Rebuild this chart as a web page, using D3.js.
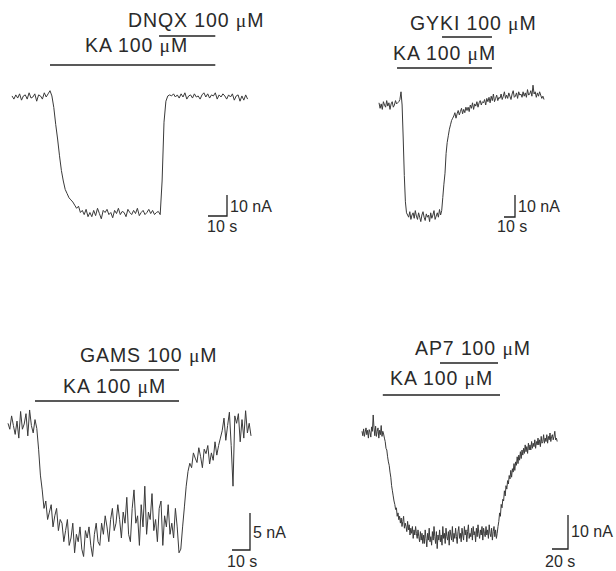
<!DOCTYPE html>
<html>
<head>
<meta charset="utf-8">
<script src="https://cdn.jsdelivr.net/npm/d3@7"></script>
<style>
  body { margin: 0; background: #fff; }
  svg { display: block; }
  text { font-family: "Liberation Sans", Arial, sans-serif; fill: #2a2a2a; }
</style>
</head>
<body>
<div id="chart"></div>
<script>
// drugs applied on top of KA, one panel each
const drugNames = ['DNQX', 'GYKI', 'GAMS', 'AP7'];
const drugConc = ['100', '100', '100', '100'];
const kaConc = ['100', '100', '100', '100'];

// sample interval of each trace (s)
const sampleStep = [1, 1, 1, 1];

// whole-cell current (nA)
const traceDNQX = [
  0.5, -1, 1, -0.5, 1.5, -1.5, 0.5, 1, -1, 2,
  -0.5, 0, 1.5, -2, 1, 0.5, -1, 2, 0, 1.5,
  3,
  0.5, -5, -13, -20, -28, -35, -40, -44, -46, -48, -49, -50, -51.5, -53, -52, -55, -54, -56, -53.5,
  -57, -55, -57, -54, -56.5, -53, -55.5, -58, -54, -55,
  -53.5, -56, -55, -57.5, -54, -55.5, -53, -56, -54.5, -55,
  -57, -53.5, -55, -56, -54, -55.5, -53, -56.5, -55, -54,
  -56, -55, -53.5, -55.5, -54, -56, -55, -54.5, -56,
  -40, -12, -2, 0.5, 1,
  0.5, 1.5, 0, 1, -0.5, 1.5, 0, 2, -1, 0.5,
  1, -0.5, 1.5, 0, 0.5, -1, 1, 2, 0, 1.5,
  -0.5, 1, 0.5, 2, -1, 1, 0, 1.5, 0.5, -1,
  1, 0, 1.5, -1.5, 0.5, 1, -2, 0.5, -1.5, 1, -1
];

const traceGYKI = [
  1, -1.5, 0.5, -2, 1.5, 0, -1, 2, -0.5, 1,
  -2, 0.5, 1.5, -1, 0, 2, 0.5, 1, 1.5, 2.5,
  6,
  0, -15, -32, -44, -49, -50,
  -51, -48.5, -52, -50, -49, -51.5, -48, -50.5, -52, -49,
  -51, -53, -50, -48.5, -51, -52.5, -49.5, -51, -50, -53,
  -49, -51.5, -50, -48, -52, -50.5, -49, -51, -47.5, -50,
  -48, -42, -36, -31, -22, -17, -14, -11, -9, -7, -6,
  -5, -3.5, -6, -4, -2.5, -4.5, -3, -1.5, -4, -2, -3.5, -1, -2.5,
  -1, -3, 0, -1.5, 1, -2, 0.5, -0.5, 1.5, -1, 1, 2, 0, 1.5, 1,
  2.5, 0, 3, 1.5, 3.5, 1, 4, 2, 5, 1.5, 3, 4.5, 2, 3.5, 3,
  5, 2.5, 4, 6, 3, 4.5, 3, 5.5, 4, 2.5, 5, 6.5, 3.5, 4, 5.5, 3, 6, 4.5, 5, 3.5,
  6, 4, 5.5, 3.5, 7, 4.5, 5, 6.5, 4, 9, 5, 6, 3.5, 5.5, 4, 6, 4.5, 3, 4, 2.5
];

const traceGAMS = [
  0.5, -0.3, 1.5, 0.2, -1, 0.8, -1.5, 2.1, -0.3, 0.4, 1.8, -1.2, 2.3, 0.2, -0.8, 1, -0.2,
  -3, -6.5, -8.5, -11,
  -10, -12.5, -11.5, -10.5, -13.5, -12, -11, -14, -12.5,
  -13, -15.5, -14, -12.5, -16, -15, -13, -17, -14.5, -15.5, -13.5,
  -16.5, -17.5, -14, -15, -13.5, -16, -17.5, -14.5, -13, -15.5, -16,
  -13, -14.5, -12, -13.5, -15.5, -12.5, -11, -14, -13, -10.5, -12.5, -15, -11.5, -13,
  -9.5, -14.5, -15.5, -11, -8.5, -13, -12, -16, -10.5, -13.5, -8, -14.5, -11.5, -12.5,
  -9, -14, -12.5, -15.5, -11, -10, -16, -12, -13.5, -10.5, -14.5, -13, -15, -11, -13.5, -17,
  -16.5, -13.5, -10.8, -8, -6, -4.9,
  -5.5, -3.5, -4.2, -4.8, -2.8, -4, -5.5, -3, -3.6, -2.5, -5, -3.5, -4.5, -2, -3.8, -2.5, -1.5,
  -0.5, 1.2, -1.8, 0.2, 2, -2.5, -8, 1.5, 0.5, 1.8, -2, 1, -1.5, 2.2, -0.8, 0.5, -1.2
];

const traceAP7 = [
  0.5, -0.8, 1.2, -1, 0.3, 1.5, -0.5, 0.8, -1.5, 1,
  0.2, -1.2, 1.8, 0.5, 5.3, 1.5, -0.8, 2, -1, 0.5,
  1.5, -1.5, 0.8, -0.5, 2.2, -1, 0.5, -0.3,
  -1.5, -2.5, -4.5, -5, -7, -8.5, -9.5, -11.5, -13, -15.5,
  -17, -18.5, -20, -21, -22.5, -22, -24.5, -23.5, -25.5, -24.5,
  -26.5, -25, -27.5, -26, -24.5, -28, -26.5, -27.5, -29, -26,
  -28.5, -27, -30, -28, -29.5, -27.5, -31, -28.5, -30, -27.5,
  -29.5, -31, -28.5, -30.5, -32, -29, -31.5, -29.5, -32.5,
  -30, -32.5, -28.5, -31, -33.5, -29.5, -31.5, -28, -32, -30.5,
  -33, -29, -31.5, -27.5, -30.5, -32.5, -29, -34, -30, -31.5,
  -28.5, -32, -30, -33, -27.5, -31, -29.5, -32.5, -28, -30.5,
  -31.5, -29, -33, -28.5, -30, -31.5, -27.5, -32, -29.5, -31,
  -28, -30.5, -32.5, -29, -27.5, -31, -29.5, -32, -28, -30,
  -31.5, -27.5, -30, -28.5, -32, -29, -27, -31, -29.5, -30.5,
  -28, -31.5, -27.5, -30, -29, -32, -28, -30.5, -27, -29.5,
  -31, -28.5, -30, -27.5, -31.5, -28, -29.5, -30.5, -27.5, -30,
  -28.5, -31, -27, -29.5, -30.5, -28, -31.5, -29, -27.5, -30.5,
  -28.5, -31, -29.5,
  -27.5, -26, -23.5, -24.5, -21, -22, -19.5, -20, -17, -18.5,
  -15.5, -16.5, -14, -15, -12.5, -13.5, -11, -13, -10.5, -11.5,
  -9, -11, -8.5, -9.5, -7, -9, -6.5, -8, -5.5, -7.5,
  -5, -6.5, -4.5, -6, -3.5, -5.5, -4, -6, -3, -5,
  -3.5, -5, -2.5, -4.5, -3, -4, -2, -4.5, -2.5, -3.5,
  -1.5, -3.5, -2, -4, -1, -3, -2.5, -0.5, -3, -1.5,
  -2.5, -0.5, -3, -1, -2, 0, -2.5, -1, -0.5, -2,
  -1, 0.5, -2, -1.5, -2.5
];

// application periods (s from start of trace)
const kaOn = [20, 16.4, 15, 26];
const kaOff = [107, 102.7, 95, 172.5];
const drugOn = [77.4, 57.3, 56.7, 97.5];
const drugOff = [107, 102.7, 95, 170];

// calibration bars
const calNA = [10, 10, 5, 10];
const calS = [10, 10, 10, 20];

const traces = [traceDNQX, traceGYKI, traceGAMS, traceAP7];

// where each panel sits on the page
const layout = [
  { x0: 12, y0: 97, pxS: 1.9, pxNA: 2.1, drugX: 128, drugY: 27, drugBarY: 36, kaX: 85, kaY: 52, kaBarY: 65, calX: 227, calY: 216, naY: 212, sX: 207, sY: 232 },
  { x0: 379, y0: 105, pxS: 1.1, pxNA: 2.2, drugX: 410, drugY: 30, drugBarY: 37, kaX: 393, kaY: 60, kaBarY: 68, calX: 515, calY: 217, naY: 212, sX: 497, sY: 232 },
  { x0: 8, y0: 427, pxS: 1.8, pxNA: 7.4, drugX: 80, drugY: 362, drugBarY: 370, kaX: 63, kaY: 393, kaBarY: 401, calX: 250, calY: 550, naY: 538, sX: 227, sY: 567 },
  { x0: 362, y0: 433, pxS: 0.8, pxNA: 3.4, drugX: 415, drugY: 355, drugBarY: 363, kaX: 390, kaY: 385, kaBarY: 395, calX: 568, calY: 549, naY: 537, sX: 545, sY: 567 }
];

const W = 616, H = 571;
const svg = d3.select('#chart').append('svg')
  .attr('width', W)
  .attr('height', H);

function concLabel(sel, name, conc) {
  sel.append('tspan').text(name + ' ' + conc + ' ');
  sel.append('tspan').style('font-family', '"Liberation Serif", serif').text('\u03BC');
  sel.append('tspan').text('M');
}

traces.forEach((trace, p) => {
  const L = layout[p];
  const g = svg.append('g');
  const x = d3.scaleLinear().domain([0, 100]).range([L.x0, L.x0 + 100 * L.pxS]);
  const y = d3.scaleLinear().domain([0, -10]).range([L.y0, L.y0 + 10 * L.pxNA]);
  const step = sampleStep[p];

  // current trace
  const line = d3.line()
    .x((d, i) => x(i * step))
    .y(d => y(d));
  g.append('path')
    .datum(trace)
    .attr('d', line)
    .attr('fill', 'none')
    .attr('stroke', '#3a3a3a')
    .attr('stroke-width', 1)
    .attr('stroke-linejoin', 'round');

  // application bars
  g.append('line')
    .attr('x1', x(kaOn[p])).attr('x2', x(kaOff[p]))
    .attr('y1', L.kaBarY).attr('y2', L.kaBarY)
    .attr('stroke', '#222').attr('stroke-width', 1.7);
  g.append('line')
    .attr('x1', x(drugOn[p])).attr('x2', x(drugOff[p]))
    .attr('y1', L.drugBarY).attr('y2', L.drugBarY)
    .attr('stroke', '#222').attr('stroke-width', 1.7);

  g.append('text')
    .attr('x', L.drugX).attr('y', L.drugY)
    .attr('font-size', 19.5)
    .attr('letter-spacing', 0.9)
    .call(concLabel, drugNames[p], drugConc[p]);
  g.append('text')
    .attr('x', L.kaX).attr('y', L.kaY)
    .attr('font-size', 19.5)
    .attr('letter-spacing', 0.9)
    .call(concLabel, 'KA', kaConc[p]);

  // calibration: vertical nA, horizontal s
  const vLen = y(-calNA[p]) - y(0);
  const hLen = x(calS[p]) - x(0);
  g.append('path')
    .attr('d', `M${L.calX},${L.calY - vLen}V${L.calY}H${L.calX - hLen}`)
    .attr('fill', 'none')
    .attr('stroke', '#222')
    .attr('stroke-width', 1.3);
  g.append('text')
    .attr('x', L.calX + 3).attr('y', L.naY)
    .attr('font-size', 16)
    .text(calNA[p] + ' nA');
  g.append('text')
    .attr('x', L.sX).attr('y', L.sY)
    .attr('font-size', 16)
    .text(calS[p] + ' s');
});
</script>
</body>
</html>
